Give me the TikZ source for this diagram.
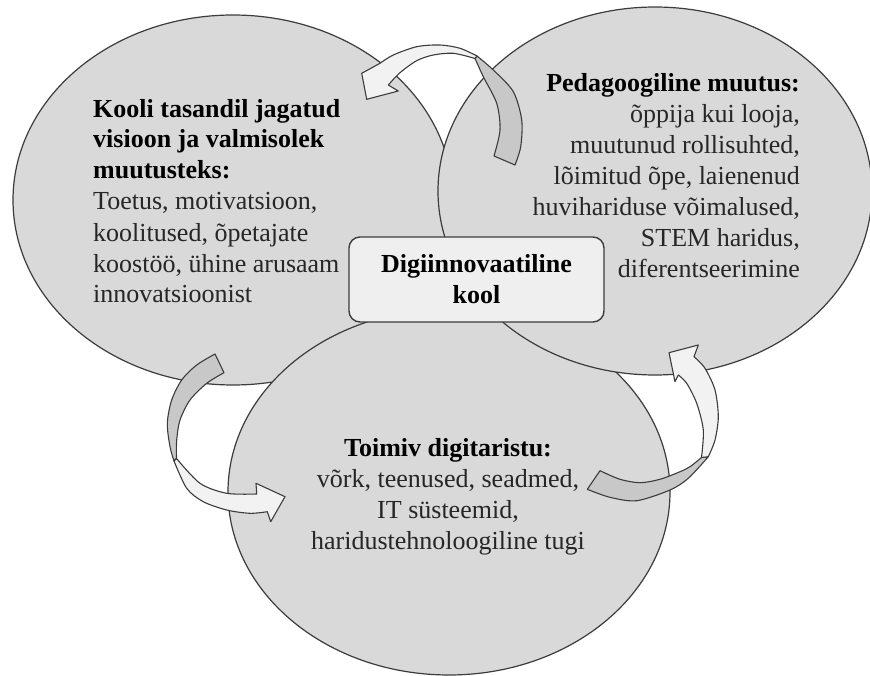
\documentclass[tikz,border=0pt]{standalone}
\usepackage{fontspec}
\setmainfont{Liberation Serif}
\usetikzlibrary{shapes.geometric}
\definecolor{bubblefill}{HTML}{D9D9D9}
\definecolor{outline}{HTML}{3C3C3C}
\definecolor{tailgray}{HTML}{C8C8C8}
\definecolor{headwhite}{HTML}{F2F2F2}
\definecolor{boxfill}{HTML}{EFEFEF}
\definecolor{bodytext}{HTML}{262626}
\begin{document}
\begin{tikzpicture}[x=1pt,y=-1pt,
  bubble/.style={ellipse, draw=outline, fill=bubblefill, line width=1.2pt, inner sep=0pt},
  tailpart/.style={draw=outline, fill=tailgray, line width=1.1pt, line join=round},
  headpart/.style={draw=outline, fill=headwhite, line width=1.1pt, line join=round},
  txt/.style={inner sep=0pt, font=\fontsize{26}{31}\selectfont, text=bodytext},
  hub/.style={draw=outline, fill=boxfill, line width=1.4pt, rounded corners=11pt,
    minimum width=255pt, minimum height=85pt, inner sep=0pt}]

\fill[white] (0,0) rectangle (870,676);
\useasboundingbox (0,0) rectangle (870,676);

% the three areas
\node[bubble, minimum width=440pt, minimum height=370pt] (vision) at (233,200) {};
\node[bubble, minimum width=442pt, minimum height=366pt] (infra) at (449,492) {};
\node[bubble, minimum width=434pt, minimum height=368pt] (pedagogy) at (655,191) {};

% curved arrow: pedagogy -> vision
\filldraw[tailpart] plot[smooth] coordinates {(477,56) (493.3,70) (513.3,91.7) (521.7,120) (520.7,146.7) (515,165)}
  -- plot[smooth] coordinates {(494,156) (500,130) (496.7,103.3) (483.3,76.7) (475,58.5)} -- cycle;
\filldraw[headpart] plot[smooth] coordinates {(477,56) (460,48.3) (440,45) (416.7,46.7) (393.3,55) (380,63.3)}
  -- (361.7,73.3) -- (366.7,99.3) -- (398.3,91)
  -- plot[smooth] coordinates {(388.3,85) (400,72.7) (416.7,60.7) (433.3,55) (453.3,53.3) (475,58.5)} -- cycle;

% curved arrow: vision -> infra
\filldraw[tailpart] plot[smooth] coordinates {(215,354) (196.7,365) (181.7,380) (171.7,400) (167.3,423.3) (170,446.7) (174,461)}
  -- plot[smooth] coordinates {(176.5,458.5) (176.7,440) (180,420) (190,400) (206.7,383.3) (224,372.7)} -- cycle;
\filldraw[headpart] plot[smooth] coordinates {(176.5,458.5) (200,483.3) (226.7,493.3) (256.7,494)}
  -- (256,483.3) -- (285,496.7) -- (270.7,521.7)
  -- plot[smooth] coordinates {(267.3,511.7) (250,513.3) (226.7,510) (203.3,501.7) (186.7,488.3) (174,461)} -- cycle;

% curved arrow: infra -> pedagogy
\filldraw[tailpart] plot[smooth] coordinates {(701.5,457.5) (690,466.7) (680,471.7) (660,479.3) (640,482.7) (620,479.3) (600,470.7)}
  -- plot[smooth] coordinates {(587.3,489.3) (610,497.3) (636.7,500.7) (670,490) (688.3,478.3) (708.3,456.7)} -- cycle;
\filldraw[headpart] plot[smooth] coordinates {(701.5,457.5) (703.3,430) (696.7,403.3) (686.7,383.3) (678.3,375)}
  -- (675,381.7) -- (669,352.7) -- (698.3,345)
  -- plot[smooth] coordinates {(694,356.7) (705,368.3) (715,390) (718.3,416.7) (715,440) (708.3,456.7)} -- cycle;

% centre box
\node[hub] (core) at (476.5,279.5) {};
\node[txt, text=black, align=center, anchor=base] (coretext) at (476.5,304)
  {\textbf{Digiinnovaatiline}\\\textbf{kool}};

% texts of the areas (anchored on the baseline of the last line)
\node[txt, align=left, anchor=base west] (visiontext) at (93,303)
  {\textcolor{black}{\textbf{Kooli tasandil jagatud}}\\
   \textcolor{black}{\textbf{visioon ja valmisolek}}\\
   \textcolor{black}{\textbf{muutusteks:}}\\
   Toetus, motivatsioon,\\
   koolitused, õpetajate\\
   koostöö, ühine arusaam\\
   innovatsioonist};
\node[txt, align=right, anchor=base east] (pedagogytext) at (800,278)
  {\textcolor{black}{\textbf{Pedagoogiline muutus:}}\\
   õppija kui looja,\\
   muutunud rollisuhted,\\
   lõimitud õpe, laienenud\\
   huvihariduse võimalused,\\
   STEM haridus,\\
   diferentseerimine};
\node[txt, align=center, anchor=base] (infratext) at (448,549)
  {\textcolor{black}{\textbf{Toimiv digitaristu:}}\\
   võrk, teenused, seadmed,\\
   IT süsteemid,\\
   haridustehnoloogiline tugi};
\end{tikzpicture}
\end{document}
